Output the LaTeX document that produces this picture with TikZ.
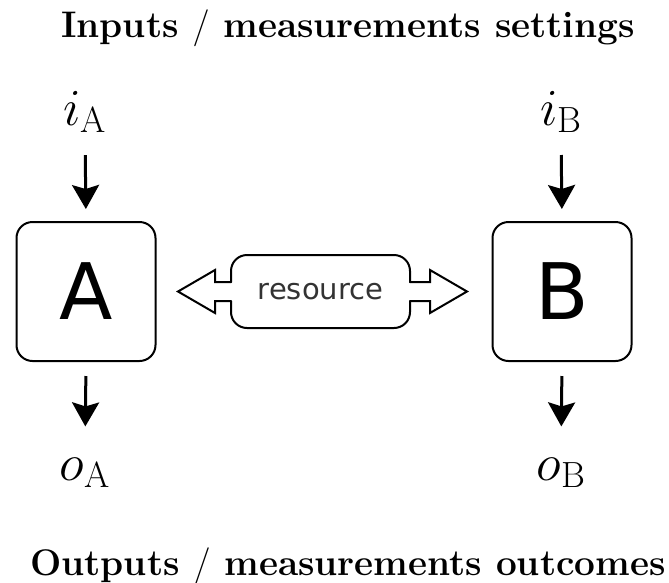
\RequirePackage{fix-cm}
\documentclass[tikz,border=0pt]{standalone}
\usepackage{fontspec}
\newfontfamily\dejavu{DejaVu Sans}
\usetikzlibrary{arrows.meta}

\tikzset{
  title/.style={anchor=base, inner sep=0pt, font=\fontsize{37}{42}\selectfont\bfseries},
  party/.style={draw, line width=2pt, rounded corners=16pt, minimum width=139pt,
                minimum height=139pt, inner sep=0pt, font=\dejavu\fontsize{78}{80}\selectfont},
  varlabel/.style={anchor=base, inner sep=0pt, font=\fontsize{52}{58}\selectfont},
  flow/.style={line width=3pt, -{Stealth[length=24pt, width=27pt, inset=4pt]}},
  outline/.style={line width=2pt, line cap=round, line join=miter},
}

\begin{document}
\begin{tikzpicture}[x=1pt, y=-1pt]
  \useasboundingbox (0,0) rectangle (669,582);

  % titles
  \node[title] (top) at (348,37) {Inputs~$/$~measurements settings};
  \node[title] (bottom) at (348,575) {Outputs~$/$~measurements outcomes};

  % the two parties
  \node[party] (A) at (86,291.5) {A};
  \node[party] (B) at (562,291.5) {B};

  % settings and outcomes
  \node[varlabel] (iA) at (85,125) {$i_{\mathrm{A}}$};
  \node[varlabel] (iB) at (561,125) {$i_{\mathrm{B}}$};
  \node[varlabel] (oA) at (85,480) {$o_{\mathrm{A}}$};
  \node[varlabel] (oB) at (561,480) {$o_{\mathrm{B}}$};

  \draw[flow, shorten <=22pt, shorten >=12pt] (iA.south) -- (A.north);
  \draw[flow, shorten <=22pt, shorten >=12pt] (iB.south) -- (B.north);
  \draw[flow, shorten <=14pt, shorten >=31pt] (A.south) -- (oA.north);
  \draw[flow, shorten <=14pt, shorten >=31pt] (B.south) -- (oB.north);

  % shared resource: rounded box with a hollow double arrow
  \node[inner sep=0pt, text=black!80, font=\dejavu\fontsize{29}{32}\selectfont]
    (res) at (320.5,291.5) {resource};
  \draw[outline, rounded corners=16pt] (231,301) -- (231,328) -- (410,328) -- (410,301);
  \draw[outline, rounded corners=16pt] (410,282) -- (410,255) -- (231,255) -- (231,282);
  \draw[outline] (231,282) -- (215,282) -- (215,270) -- (178,291.5)
                 -- (215,313) -- (215,301) -- (231,301);
  \draw[outline] (410,282) -- (430,282) -- (430,270) -- (467,291.5)
                 -- (430,313) -- (430,301) -- (410,301);
\end{tikzpicture}
\end{document}
